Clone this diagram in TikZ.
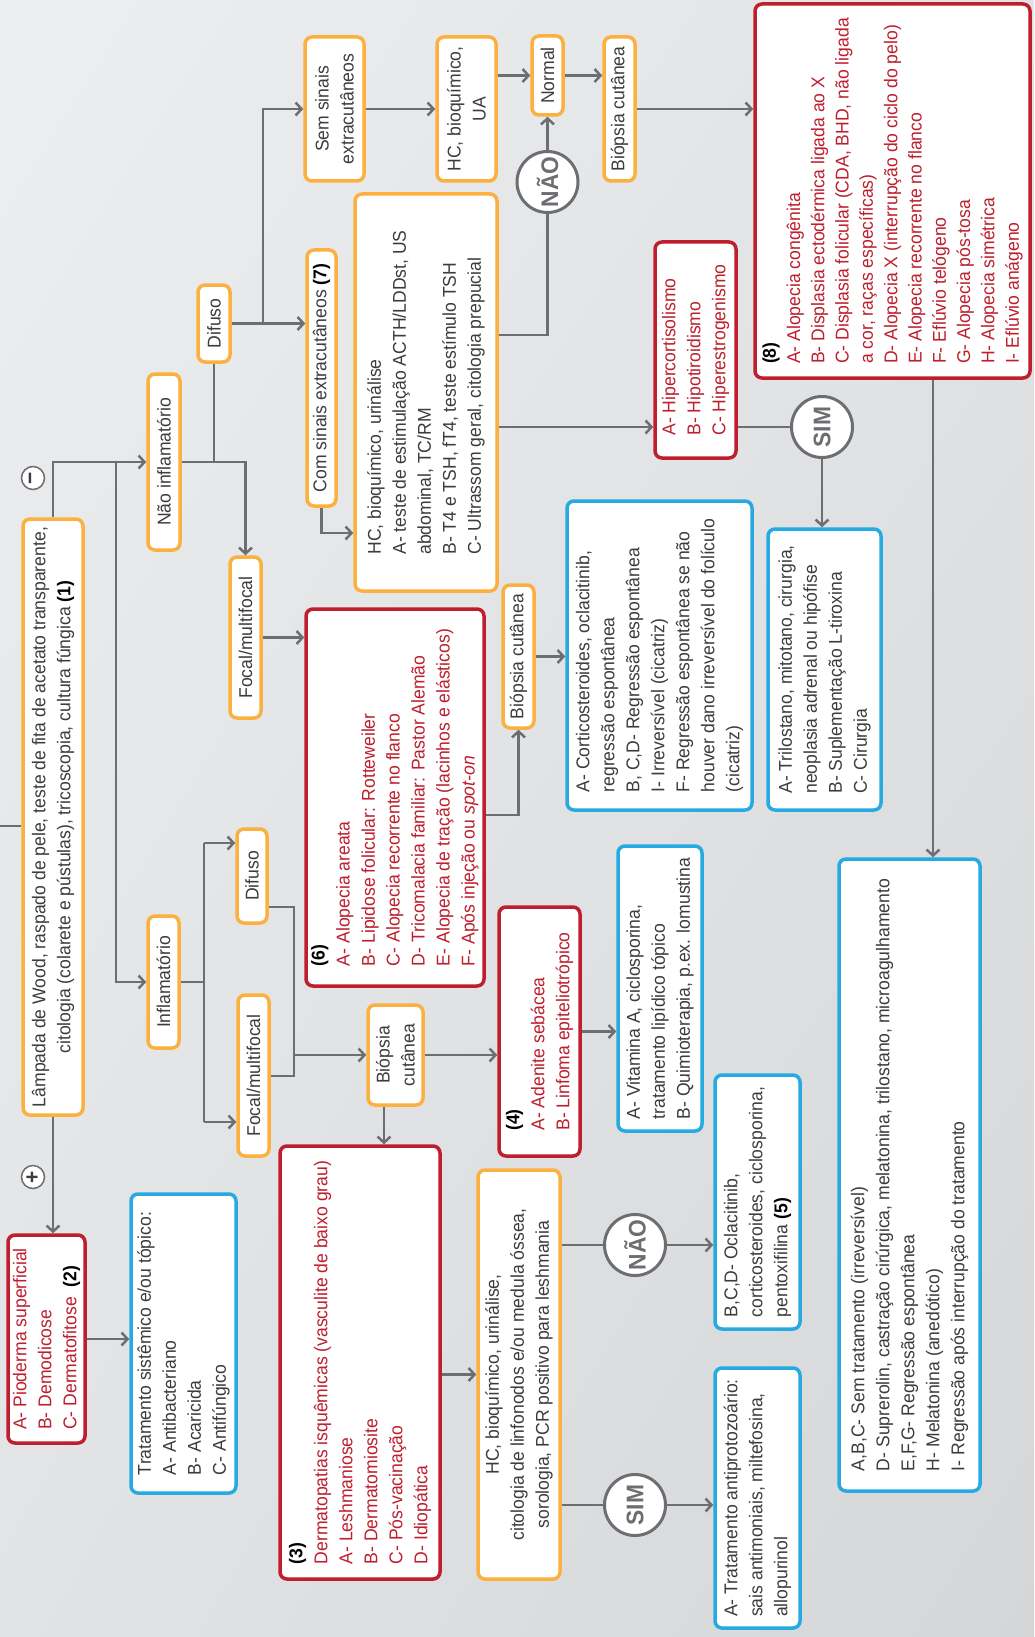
\documentclass[tikz,border=0pt]{standalone}
\usepackage{fontspec}
\setmainfont{Liberation Sans}[FakeStretch=0.95]
\usetikzlibrary{arrows.meta,shadings}

\definecolor{orng}{RGB}{251,176,64}
\definecolor{rd}{RGB}{190,30,45}
\definecolor{blu}{RGB}{39,170,225}
\definecolor{lgray}{RGB}{109,110,113}
\definecolor{txt}{RGB}{60,60,62}
\definecolor{bgA}{RGB}{237,238,240}
\definecolor{bgM}{RGB}{226,227,229}
\definecolor{bgB}{RGB}{213,214,216}

\newcommand\bodyfont{\fontsize{18.5}{25}\selectfont}
\newcommand\noteno[1]{{\color{black}\textbf{(#1)}}}

\tikzset{
  roundbox/.style={draw, rounded corners=7pt, fill=white, line width=3.5pt, rotate=90, inner sep=3pt, align=left, text=txt, font=\bodyfont},
  orbox/.style={roundbox, draw=orng},
  redbox/.style={roundbox, draw=rd, text=rd},
  blubox/.style={roundbox, draw=blu},
  conn/.style={draw=lgray, line width=2.5pt},
  arr/.style={conn, -{Straight Barb[length=6pt,width=13pt]}},
  yesno/.style={circle, draw=lgray, line width=3pt, fill=white, minimum size=61pt, inner sep=0pt, rotate=90, text=lgray, font=\bfseries\fontsize{24}{24}\selectfont},
  pmsign/.style={circle, draw=lgray, line width=1.5pt, fill=white, minimum size=23pt, inner sep=0pt, rotate=90, text=txt, font=\bfseries\fontsize{22}{22}\selectfont}
}

\begin{document}
\begin{tikzpicture}[x=1pt, y=-1pt]

\useasboundingbox (0,0) rectangle (1034,1637);
\shade[upper left=bgA, upper right=bgM, lower left=bgM, lower right=bgB] (0,0) rectangle (1034,1637);

% first column
\node[orbox, align=center, minimum width=596pt, minimum height=60pt] (lamp) at (53,817) {Lâmpada de Wood, raspado de pele, teste de fita de acetato transparente,\\citologia (colarete e pústulas), tricoscopia, cultura fúngica \noteno{1}};
\node[redbox, minimum width=208pt, minimum height=77pt] (box2) at (46.5,1339) {A- Pioderma superficial\\B- Demodicose\\C- Dermatofitose\ \ \noteno{2}};
\node[blubox, minimum width=299pt, minimum height=105pt] (trat) at (183.5,1343.5) {Tratamento sistêmico e/ou tópico:\\A- Antibacteriano\\B- Acaricida\\C- Antifúngico};
\node[pmsign] (minus) at (33,478) {−};
\node[pmsign] (plus) at (33,1177) {+};

% non inflammatory branch
\node[orbox, minimum width=176pt, minimum height=32pt] (ninf) at (164,462) {Não inflamatório};
\node[orbox, minimum width=77pt, minimum height=32pt] (dif1) at (214,323.5) {Difuso};
\node[orbox, minimum width=161pt, minimum height=31pt] (foc1) at (245.5,637.5) {Focal/multifocal};
\node[orbox, align=center, minimum width=144pt, minimum height=59pt] (sem) at (334.5,109) {Sem sinais\\extracutâneos};
\node[orbox, minimum width=256pt, minimum height=29pt] (com) at (321.5,378) {Com sinais extracutâneos \noteno{7}};
\node[orbox, minimum width=397pt, minimum height=142pt] (det) at (426,392.5) {HC, bioquímico, urinálise\\A- teste de estimulação ACTH/LDDst, US\\abdominal, TC/RM\\B- T4 e TSH, fT4, teste estímulo TSH\\C- Ultrassom geral, citologia prepucial};
\node[orbox, align=center, minimum width=144pt, minimum height=59pt] (hcua) at (466.5,109) {HC, bioquímico,\\UA};
\node[orbox, minimum width=79pt, minimum height=31pt] (norm) at (547.5,75.5) {Normal};
\node[orbox, minimum width=144pt, minimum height=31pt] (bio1) at (619.5,109) {Biópsia cutânea};
\node[yesno] (nao1) at (547.5,182) {NÃO};
\node[redbox, font=\fontsize{18.5}{24.3}\selectfont, minimum width=374pt, minimum height=275pt] (box8) at (892.5,191) {\noteno{8}\\A- Alopecia congênita\\B- Displasia ectodérmica ligada ao X\\C- Displasia folicular (CDA, BHD, não ligada\\a cor, raças específicas)\\D- Alopecia X (interrupção do ciclo do pelo)\\E- Alopecia recorrente no flanco\\F- Eflúvio telógeno\\G- Alopecia pós-tosa\\H- Alopecia simétrica\\I- Eflúvio anágeno};
\node[redbox, minimum width=216pt, minimum height=81pt] (hip) at (695.5,350) {A- Hipercortisolismo\\B- Hipotiroidismo\\C- Hiperestrogenismo};
\node[yesno] (sim1) at (822,427) {SIM};
\node[blubox, minimum width=281pt, minimum height=113pt] (tril) at (824.5,669.5) {A- Trilostano, mitotano, cirurgia,\\neoplasia adrenal ou hipófise\\B- Suplementação L-tiroxina\\C- Cirurgia};
\node[redbox, minimum width=377pt, minimum height=178pt] (box6) at (395,797.5) {\noteno{6}\\A- Alopecia areata\\B- Lipidose folicular: Rotteweiler\\C- Alopecia recorrente no flanco\\D- Tricomalacia familiar: Pastor Alemão\\E- Alopecia de tração (lacinhos e elásticos)\\F- Após injeção ou \textit{spot-on}};
\node[orbox, minimum width=143pt, minimum height=31pt] (bio2) at (518.5,656.5) {Biópsia cutânea};
\node[blubox, minimum width=309pt, minimum height=185pt] (cort) at (659.5,655.5) {A- Corticosteroides, oclacitinib,\\regressão espontânea\\B, C,D- Regressão espontânea\\I- Irreversível (cicatriz)\\F- Regressão espontânea se não\\houver dano irreversível do folículo\\(cicatriz)};
\node[blubox, minimum width=632pt, minimum height=141pt] (semt) at (909.5,1175) {A,B,C- Sem tratamento (irreversível)\\D- Suprerolin, castração cirúrgica, melatonina, trilostano, microagulhamento\\E,F,G- Regressão espontânea\\H- Melatonina (anedótico)\\I- Regressão após interrupção do tratamento};

% inflammatory branch
\node[orbox, minimum width=132pt, minimum height=31pt] (inf) at (163.5,982) {Inflamatório};
\node[orbox, minimum width=94pt, minimum height=30pt] (dif2) at (252,876) {Difuso};
\node[orbox, minimum width=161pt, minimum height=31pt] (foc2) at (253.5,1075.5) {Focal/multifocal};
\node[orbox, align=center, minimum width=100pt, minimum height=55pt] (bio3) at (395.5,1055) {Biópsia\\cutânea};
\node[redbox, minimum width=249pt, minimum height=81pt] (box4) at (539.5,1031.5) {\noteno{4}\\A- Adenite sebácea\\B- Linfoma epiteliotrópico};
\node[blubox, minimum width=285pt, minimum height=84pt] (vit) at (660,988.5) {A- Vitamina A, ciclosporina,\\tratamento lipídico tópico\\B- Quimioterapia, p.ex. lomustina};
\node[redbox, minimum width=433pt, minimum height=160pt] (box3) at (360,1362.5) {\noteno{3}\\Dermatopatias isquêmicas (vasculite de baixo grau)\\A- Leshmaniose\\B- Dermatomiosite\\C- Pós-vacinação\\D- Idiopática};
\node[orbox, align=center, minimum width=409pt, minimum height=82pt] (hcl) at (519,1374.5) {HC, bioquímico, urinálise,\\citologia de linfonodos e/ou medula óssea,\\sorologia, PCR positivo para leshmania};
\node[yesno] (nao2) at (635,1245) {NÃO};
\node[yesno] (sim2) at (635,1505) {SIM};
\node[blubox, minimum width=254pt, minimum height=85pt] (box5) at (757.5,1202) {B,C,D- Oclacitinib,\\corticosteroides, ciclosporina,\\pentoxifilina \noteno{5}};
\node[blubox, minimum width=260pt, minimum height=85pt] (antip) at (757.5,1498) {A- Tratamento antiprotozoário:\\sais antimoniais, miltefosina,\\allopurinol};

\coordinate (entry) at (0,826);
\coordinate (j1) at (116,462);
\coordinate (j2) at (263,323.5);
\coordinate (k1) at (0,335);
\coordinate (k2) at (0,533);
\coordinate (k3) at (0,815);
\coordinate (k8) at (933,380);
\coordinate (t1) at (204,843);
\coordinate (t2) at (204,1122);
\coordinate (m1) at (294,907);
\coordinate (m2) at (294,1076);
\coordinate (m3) at (384,1107);

\draw[conn] (entry) -- (entry -| lamp.north);
\draw[arr] (lamp.east) |- (ninf.north);
\draw[arr] (j1) |- (inf.north);
\draw[arr] (lamp.west) -- (lamp.west |- box2.east);
\draw[arr] (box2.south) -- (box2.south -| trat.north);

\draw[arr] (ninf.south) -| (foc1.east);
\draw[conn] (dif1.west) -- (dif1.west |- ninf.south);
\draw[arr] (dif1.south) -- (dif1.south -| com.north);
\draw[arr] (j2) |- (sem.north);
\draw[arr] (sem.south) -- (hcua.north);
\draw[arr] (hcua.south |- norm.north) -- (norm.north);
\draw[arr] (norm.south) -- (norm.south -| bio1.north);
\draw[arr] (bio1.south) -- (bio1.south -| box8.north);
\draw[arr] (nao1) -- (norm.west);
\draw[conn] (det.south |- k1) -| (nao1);
\draw[arr] (com.west) |- (det.north |- k2);
\draw[arr] (det.south |- sim1) -- (hip.north |- sim1);
\draw[conn] (hip.south |- sim1) -- (sim1);
\draw[arr] (sim1) -- (sim1 |- tril.east);
\draw[arr] (k8) -- (k8 |- semt.east);
\draw[arr] (foc1.south) -- (foc1.south -| box6.north);
\draw[arr] (box6.south |- k3) -| (bio2.west);
\draw[arr] (bio2.south) -- (bio2.south -| cort.north);

\draw[conn] (inf.south) -- (inf.south -| t1);
\draw[conn] (t1) -- (t2);
\draw[arr] (t1) -- (t1 -| dif2.north);
\draw[arr] (t2) -- (t2 -| foc2.north);
\draw[conn] (dif2.south |- m1) -- (m1) -- (m2) -- (foc2.south |- m2);
\draw[arr] (m1 |- bio3.north) -- (bio3.north);
\draw[arr] (bio3.south) -- (bio3.south -| box4.north);
\draw[arr] (m3) -- (m3 |- box3.east);
\draw[arr] (box4.south) -- (box4.south -| vit.north);
\draw[arr] (hcl.north -| box3.south) -- (hcl.north);
\draw[conn] (hcl.south |- nao2) -- (nao2);
\draw[arr] (nao2) -- (nao2 -| box5.north);
\draw[conn] (hcl.south |- sim2) -- (sim2);
\draw[arr] (sim2) -- (sim2 -| antip.north);

\end{tikzpicture}
\end{document}
